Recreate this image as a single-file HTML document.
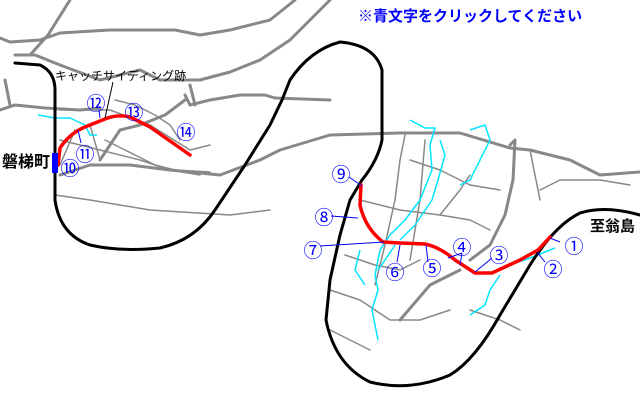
<!DOCTYPE html>
<html><head><meta charset="utf-8"><style>
html,body{margin:0;padding:0;background:#fff;width:640px;height:410px;overflow:hidden}
svg{display:block}
.t{font-family:"Liberation Sans","Noto Sans CJK JP",sans-serif}
</style></head><body>
<svg width="640" height="410" viewBox="0 0 640 410" xmlns="http://www.w3.org/2000/svg">
<g fill="none" stroke="#888" stroke-width="3" stroke-linecap="round" stroke-linejoin="round">
<path d="M70 0 L48 35 L30 55"/>
<path d="M0 38 L10 42 L40 40 L60 33 L110 30 L175 30 L200 35 L230 30 L270 20 L295 0"/>
<path d="M15 55 L35 55 L60 65 L100 80 L140 70 L160 80 L200 80 L230 72 L260 60 L290 40 L320 10 L330 0"/>
<path d="M0 110 L15 105 L45 108 L80 110 L100 108"/>
<path d="M5 80 L10 105"/>
<path d="M185 95 L190 105 L210 100 L240 95 L265 95 L275 98 L330 100"/>
<path d="M190 85 L195 105"/>
<path d="M100 160 L120 130 L140 125 L165 115 L185 100"/>
<path d="M60 175 L90 165 L130 165 L170 170 L220 175 L260 160 L280 150 L330 135 L400 133 L460 133 L510 148 L530 150 L570 160 L600 175 L640 172"/>
<path d="M510 145 L515 140 L513 180 L505 215 L490 245 L470 260"/>
<path d="M400 320 L430 285 L460 270"/>
</g>
<g fill="none" stroke="#888" stroke-width="1.5" stroke-linecap="round" stroke-linejoin="round">
<path d="M60 110 L110 110 L150 125 L190 150 L210 145"/>
<path d="M60 140 L100 150 L140 160 L170 170 L200 175"/>
<path d="M55 195 L90 200 L150 210 L230 215 L270 210"/>
<path d="M75 130 L60 165"/>
<path d="M90 125 L100 160"/>
<path d="M115 100 L135 105 L155 115 L170 125 L180 140"/>
<path d="M105 140 L125 150 L145 160 L155 165 L175 170 L210 172"/>
<path d="M405 135 L400 160 L395 200 L385 245 L375 285"/>
<path d="M425 140 L420 200 L410 260"/>
<path d="M410 160 L440 170 L470 185 L500 190"/>
<path d="M360 200 L400 210 L440 215 L470 220 L490 230"/>
<path d="M440 215 L460 190 L470 175"/>
<path d="M345 255 L375 265 L400 270 L420 260"/>
<path d="M330 290 L360 300 L390 320 L420 320 L450 310"/>
<path d="M330 330 L350 340 L370 350"/>
<path d="M540 190 L560 180 L600 180 L630 185"/>
<path d="M530 150 L540 200"/>
<path d="M470 310 L500 320 L520 330"/>
</g>
<g fill="none" stroke="#00e5ff" stroke-width="1.5" stroke-linejoin="round">
<path d="M38 115 L55 118 L70 118 L85 125 L90 135 L97 135"/>
<path d="M410 120 L425 128 L435 128 L430 145 L432 170 L420 200 L405 220 L390 235 L380 250 L375 275 L378 290 L372 310 L378 340"/>
<path d="M440 140 L445 155 L438 180 L432 200 L415 225 L400 240"/>
<path d="M470 130 L485 125 L490 140 L480 160 L470 180 L460 185"/>
<path d="M395 245 L385 260 L378 270"/>
<path d="M360 250 L355 270 L365 285"/>
<path d="M500 275 L490 290 L485 305 L470 315"/>
<path d="M510 265 L530 258 L555 248"/>
</g>
<g fill="none" stroke="#000" stroke-width="3" stroke-linecap="round" stroke-linejoin="round">
<path d="M15 63 L40 65 Q55 72 55 90 L55 200 Q60 235 90 245 Q120 252 160 248 Q195 240 215 210 L245 165 L270 125 L282 100 L290 80 Q310 50 340 42 Q375 45 382 70 L382 140 Q378 160 362 180 L350 200 L340 235 L330 280 L326 320 Q335 365 370 382 Q410 392 450 375 Q475 360 500 315 L530 265 Q555 225 580 213 Q605 205 640 215"/>
</g>
<g fill="none" stroke="#f00" stroke-width="3.5" stroke-linecap="round" stroke-linejoin="round">
<path d="M58 165 L60 148 Q70 133 85 127 L105 119 Q117 114 130 117 L150 127 L190 155"/>
<path d="M361 185 L360 205 Q365 228 383 242 L400 243 L425 244 Q440 247 455 260 L475 273 L492 273 L520 260 L538 250 L550 237"/>
</g>
<g stroke="#00f" stroke-width="1" fill="none">
<path d="M560 242 L550 238"/><path d="M545 262 L537 252"/><path d="M492 258 L475 272"/>
<path d="M462 253 L460 265"/><path d="M462 253 L448 258"/><path d="M428 262 L426 245"/><path d="M397 262 L400 245"/>
<path d="M320 246 L384 242"/><path d="M331 216 L358 218"/><path d="M349 177 L362 186"/>
<path d="M81 143 L78 130"/><path d="M99 110 L100 118"/>
</g>
<path d="M105 118 L113 82" stroke="#000" stroke-width="1"/>
<rect x="52" y="153" width="6" height="20" fill="#0000ff"/>
<g class="t" fill="#00f" font-size="19" text-anchor="middle">
<text x="574" y="253">①</text><text x="553" y="276">②</text><text x="499" y="262">③</text>
<text x="462" y="254">④</text><text x="432" y="275">⑤</text><text x="395" y="279">⑥</text>
<text x="313" y="257">⑦</text><text x="324" y="224">⑧</text><text x="341" y="181">⑨</text>
<text x="70" y="175">⑩</text><text x="85" y="161">⑪</text><text x="96" y="110">⑫</text>
<text x="134" y="119">⑬</text><text x="186" y="139">⑭</text>
</g>
<text class="t" x="358" y="21" fill="#00f" font-size="15" font-weight="bold">※青文字をクリックしてください</text>
<text class="t" x="2" y="167" fill="#000" font-size="16" font-weight="bold">磐梯町</text>
<text class="t" x="590" y="231" fill="#000" font-size="15" font-weight="bold">至翁島</text>
<text class="t" x="55" y="80" fill="#000" font-size="12">キャッチサイディング跡</text>
</svg>
</body></html>
